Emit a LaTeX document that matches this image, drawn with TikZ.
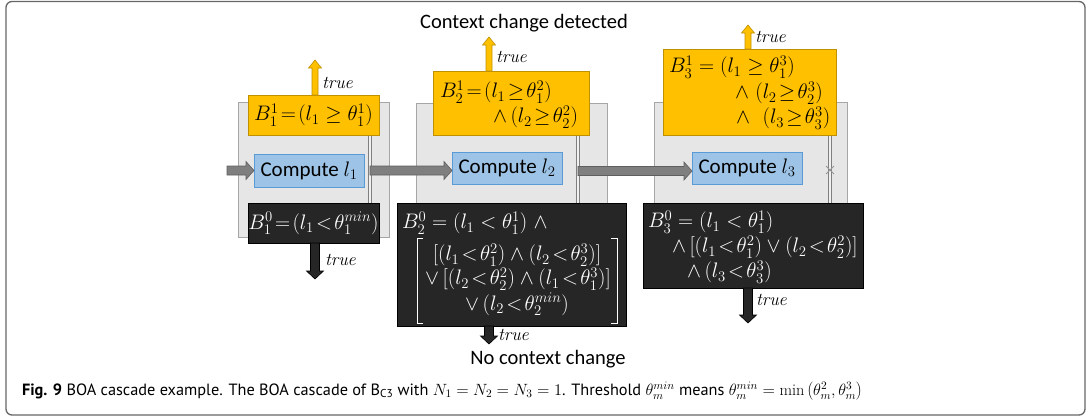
\RequirePackage{fix-cm}
\documentclass[tikz,border=0pt]{standalone}
\usepackage{fontspec}
\newfontfamily\calib{Carlito}
\newfontfamily\capfont{PT Sans}
\usetikzlibrary{calc}
\definecolor{gold}{HTML}{FFC000}
\definecolor{goldedge}{HTML}{BF9000}
\definecolor{bluefill}{HTML}{9DC3E6}
\definecolor{blueedge}{HTML}{5B9BD5}
\definecolor{boxgray}{HTML}{E6E6E6}
\definecolor{boxedge}{HTML}{A6A6A6}
\definecolor{darkbox}{HTML}{262626}
\definecolor{arrowgray}{HTML}{7F7F7F}
\definecolor{arrowedge}{HTML}{5F5F5F}
\definecolor{framecol}{HTML}{666666}
\begin{document}
\begin{tikzpicture}[x=1pt,y=-1pt,
  every node/.style={inner sep=0pt,outer sep=0pt},
  stagebox/.style={rectangle,fill=boxgray,draw=boxedge,line width=1pt},
  goldbox/.style={rectangle,fill=gold,draw=goldedge,line width=0.8pt},
  bluebox/.style={rectangle,fill=bluefill,draw=blueedge,line width=0.8pt,
     font=\calib\fontsize{21}{25}\selectfont},
  darkboxst/.style={rectangle,fill=darkbox,draw=black,line width=0.8pt,text=white},
  mathtxt/.style={font=\fontsize{21}{24}\selectfont},
  truetxt/.style={anchor=west,font=\fontsize{18}{21}\selectfont\itshape},
  plaintxt/.style={font=\calib\fontsize{20.5}{24}\selectfont},
  dline/.style={draw=arrowgray,double=boxgray!60!white,double distance=2.6pt,line width=0.7pt},
  harrow/.style={fill=arrowgray,draw=arrowedge,line width=0.6pt,
    to path={let \p1=(\tikztostart), \p2=(\tikztotarget) in
      (\x1,\y1+4.5pt) -- (\x2-8pt,\y1+4.5pt) -- (\x2-8pt,\y1+9pt) -- (\x2,\y1)
      -- (\x2-8pt,\y1-9pt) -- (\x2-8pt,\y1-4.5pt) -- (\x1,\y1-4.5pt) -- cycle}},
  uparrow/.style={fill=gold,draw=goldedge,line width=0.6pt,
    to path={let \p1=(\tikztostart), \p2=(\tikztotarget) in
      (\x1-3pt,\y1) -- (\x1-3pt,\y2-8pt) -- (\x1-6.5pt,\y2-8pt) -- (\x1,\y2)
      -- (\x1+6.5pt,\y2-8pt) -- (\x1+3pt,\y2-8pt) -- (\x1+3pt,\y1) -- cycle}},
  downarrow/.style={fill=darkbox,draw=black,line width=0.6pt,
    to path={let \p1=(\tikztostart), \p2=(\tikztotarget) in
      (\x1-4.5pt,\y1) -- (\x1-4.5pt,\y2+8pt) -- (\x1-8.5pt,\y2+8pt) -- (\x1,\y2)
      -- (\x1+8.5pt,\y2+8pt) -- (\x1+4.5pt,\y2+8pt) -- (\x1+4.5pt,\y1) -- cycle}},
]
\useasboundingbox (0,0) rectangle (1090,418);
\draw[framecol,line width=1.3pt,rounded corners=6pt] (6,1.5) rectangle (1085,415);

% ---------- stage boxes ----------
\node[stagebox,minimum width=151pt,minimum height=135pt] (g1) at (313.5,169.5) {};
\node[stagebox,minimum width=191pt,minimum height=134pt] (g2) at (511.5,170) {};
\node[stagebox,minimum width=193pt,minimum height=135pt] (g3) at (750.5,169.5) {};

% ---------- double lines ----------
\coordinate (dt1) at (370,135); \coordinate (db1) at (370,203);
\coordinate (dt2) at (578,135); \coordinate (db2) at (578,203);
\coordinate (dt3) at (830,135); \coordinate (db3) at (830,203);
\draw[dline] (dt1) -- (db1);
\draw[dline] (dt2) -- (db2);
\draw[dline] (dt3) -- (db3);
\coordinate (x3) at (830,170);
\draw[arrowgray!80!white,line width=0.8pt] ($(x3)+(-4,-4)$) -- ($(x3)+(4,4)$)
  ($(x3)+(-4,4)$) -- ($(x3)+(4,-4)$);

% ---------- stage 1 ----------
\node[goldbox,mathtxt,minimum width=131pt,minimum height=40pt] (o1) at (313.5,115)
  {$B_1^1 \!=\!(l_1 \geq \theta_1^1)$};
\node[bluebox,minimum width=110pt,minimum height=33pt] (b1) at (309,170.5) {Compute $l_1$};
\node[darkboxst,mathtxt,minimum width=131pt,minimum height=40pt] (k1) at (313.5,223)
  {$B_1^0\!=\!(l_1\!<\!\theta_1^{min})$};

% ---------- stage 2 ----------
\node[goldbox,minimum width=156pt,minimum height=64pt] (o2) at (511,103) {};
\node[mathtxt,anchor=west] (o2l1) at (440,92) {$B_2^1\!=\!(l_1\!\geq\!\theta_1^2)$};
\node[mathtxt,anchor=west] (o2l2) at (493,117) {$\wedge\,(l_2\!\geq\!\theta_2^2)$};
\node[bluebox,minimum width=110pt,minimum height=32pt] (b2) at (507,168) {Compute $l_2$};
\node[darkboxst,minimum width=229pt,minimum height=123pt] (k2) at (511.5,264.5) {};
\node[mathtxt,text=white,anchor=west] (k2l1) at (402,223) {$B_2^0 = (l_1 < \theta_1^1)\ \wedge$};
\node[mathtxt,text=white] (k2l2) at (517,255) {$[(l_1\!<\!\theta_1^2)\wedge(l_2\!<\!\theta_2^3)]$};
\node[mathtxt,text=white] (k2l3) at (518,279) {$\vee\,[(l_2\!<\!\theta_2^2)\wedge(l_1\!<\!\theta_1^3)]$};
\node[mathtxt,text=white] (k2l4) at (517,304) {$\vee\,(l_2\!<\!\theta_2^{min})$};
\draw[white,line width=1pt] (423,238) -- (417,238) -- (417,323) -- (423,323);
\draw[white,line width=1pt] (611,238) -- (617,238) -- (617,323) -- (611,323);

% ---------- stage 3 ----------
\node[goldbox,minimum width=173pt,minimum height=86pt] (o3) at (749.5,92) {};
\node[mathtxt,anchor=west] (o3l1) at (669,67) {$B_3^1 = (l_1 \geq \theta_1^3)$};
\node[mathtxt,anchor=west] (o3l2) at (735,93) {$\wedge\ (l_2\!\geq\!\theta_2^3)$};
\node[mathtxt,anchor=west] (o3l3) at (736,118) {$\wedge\ \ (l_3\!\geq\!\theta_3^3)$};
\node[bluebox,minimum width=110pt,minimum height=32pt] (b3) at (747,168) {Compute $l_3$};
\node[darkboxst,minimum width=220pt,minimum height=85pt] (k3) at (753,245.5) {};
\node[mathtxt,text=white,anchor=west] (k3l1) at (648,222) {$B_3^0 = (l_1 < \theta_1^1)$};
\node[mathtxt,text=white,anchor=west] (k3l2) at (672,247) {$\wedge\,[(l_1\!<\!\theta_1^2)\vee(l_2\!<\!\theta_2^2)]$};
\node[mathtxt,text=white,anchor=west] (k3l3) at (687,272) {$\wedge\,(l_3\!<\!\theta_3^3)$};

% ---------- horizontal arrows ----------
\coordinate (in1) at (227,170.5);
\coordinate (s1) at (370,170.5);
\coordinate (s2) at (578,171);
\draw[harrow] (in1) to (b1.west);
\draw[harrow] (s1) to (b2.west);
\draw[harrow] (s2) to (b3.west);

% ---------- vertical arrows ----------
\coordinate (u1) at (315,60);
\coordinate (u2) at (489,37);
\coordinate (u3) at (748,25);
\coordinate (d1) at (315,279);
\coordinate (d2) at (489,344);
\coordinate (d3) at (748,323);
\draw[uparrow] (u1 |- o1.north) to (u1);
\draw[uparrow] (u2 |- o2.north) to (u2);
\draw[uparrow] (u3 |- o3.north) to (u3);
\draw[downarrow] (d1 |- k1.south) to (d1);
\draw[downarrow] (d2 |- k2.south) to (d2);
\draw[downarrow] (d3 |- k3.south) to (d3);

% ---------- labels ----------
\node[truetxt] (t1u) at (322,83) {true};
\node[truetxt] (t1d) at (325,260) {true};
\node[truetxt] (t2u) at (496,57) {true};
\node[truetxt] (t2d) at (498,335) {true};
\node[truetxt] (t3u) at (755,37) {true};
\node[truetxt] (t3d) at (756,300) {true};
\node[plaintxt] (ctx) at (524,23) {Context change detected};
\node[plaintxt] (noctx) at (548,359) {No context change};

% ---------- caption ----------
\node[anchor=west,font=\capfont\fontsize{16.3}{19}\selectfont] (cap) at (22,391)
  {\textbf{Fig. 9} BOA cascade example. The BOA cascade of B\textsubscript{C3} with $N_1=N_2=N_3=1$. Threshold $\theta_m^{min}$ means $\theta_m^{min}=\min\left(\theta_m^2,\theta_m^3\right)$};
\end{tikzpicture}
\end{document}
